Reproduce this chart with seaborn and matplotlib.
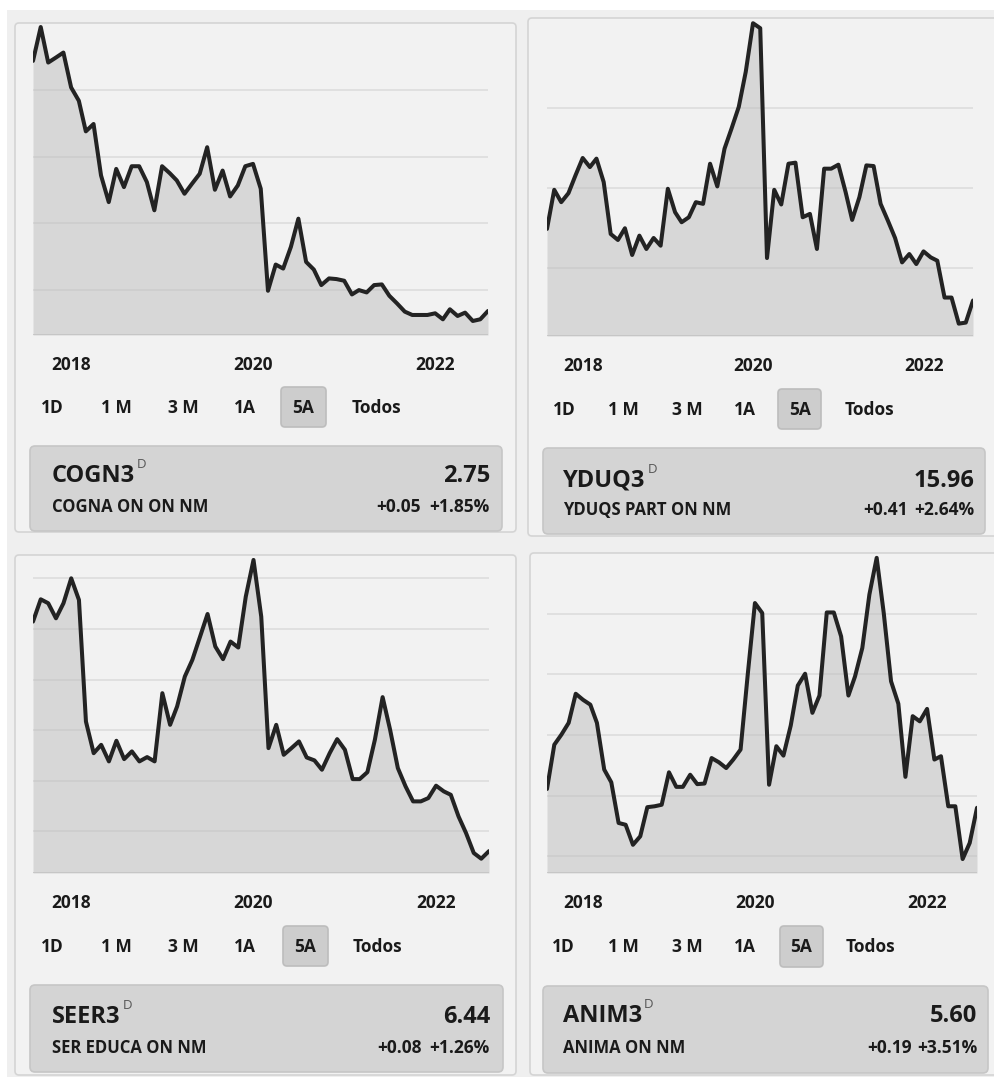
import numpy as np
import pandas as pd
import seaborn as sns
import matplotlib.pyplot as plt
from matplotlib.patches import FancyBboxPatch, Rectangle

# monthly closes, Aug 2017 - Aug 2022 (R$)
dates = pd.date_range('2017-08-01', periods=61, freq='MS')

cogn3 = [17.73, 19.76, 17.63, 17.93, 18.23, 16.14, 15.34, 13.51, 13.95, 10.87,
         9.27, 11.26, 10.17, 11.42, 11.42, 10.47, 8.78, 11.42, 11.00, 10.57,
         9.77, 10.37, 10.97, 12.56, 10.01, 11.16, 9.61, 10.27, 11.42, 11.56,
         10.07, 3.96, 5.53, 5.29, 6.59, 8.28, 5.69, 5.23, 4.30, 4.70,
         4.66, 4.56, 3.74, 4.00, 3.86, 4.30, 4.34, 3.66, 3.20, 2.71,
         2.51, 2.51, 2.51, 2.61, 2.25, 2.85, 2.45, 2.65, 2.15, 2.25, 2.75]

yduq3 = [24.88, 29.75, 28.21, 29.33, 31.54, 33.71, 32.58, 33.63, 30.71, 24.25,
         23.50, 24.96, 21.63, 24.04, 22.38, 23.75, 22.79, 29.88, 26.96, 25.71,
         26.33, 28.21, 28.00, 33.00, 30.17, 34.88, 37.38, 40.08, 44.46, 50.50,
         49.88, 21.25, 29.75, 27.92, 33.00, 33.13, 26.33, 26.75, 22.38, 32.38,
         32.38, 32.88, 29.46, 26.00, 28.83, 32.79, 32.71, 28.00, 25.92, 23.75,
         20.71, 21.75, 20.50, 22.08, 21.33, 20.92, 16.33, 16.33, 13.08, 13.21, 15.96]

seer3 = [24.58, 26.34, 26.03, 24.84, 26.03, 28.00, 26.29, 16.68, 14.18, 14.84,
         13.53, 15.16, 13.71, 14.32, 13.53, 13.87, 13.53, 18.92, 16.42, 17.87,
         20.24, 21.55, 23.39, 25.18, 22.61, 21.61, 23.00, 22.53, 26.55, 29.45,
         24.97, 14.58, 16.42, 14.05, 14.58, 15.11, 13.84, 13.61, 12.87, 14.18,
         15.29, 14.45, 12.13, 12.13, 12.68, 15.24, 18.61, 16.03, 13.00, 11.55,
         10.37, 10.37, 10.63, 11.61, 11.16, 10.89, 9.18, 7.87, 6.29, 5.84, 6.44]

anim3 = [6.22, 7.68, 8.01, 8.40, 9.36, 9.16, 9.00, 8.40, 6.86, 6.44,
         5.10, 5.04, 4.38, 4.66, 5.62, 5.65, 5.70, 6.77, 6.29, 6.29,
         6.69, 6.38, 6.40, 7.24, 7.10, 6.91, 7.19, 7.52, 9.96, 12.35,
         12.02, 6.36, 7.63, 7.32, 8.31, 9.63, 10.02, 8.73, 9.30, 12.04,
         12.04, 11.25, 9.30, 9.93, 10.87, 12.63, 13.84, 12.02, 9.77, 9.03,
         6.62, 8.62, 8.45, 8.86, 7.19, 7.30, 5.65, 5.65, 3.91, 4.44, 5.60]

tickers = ['COGN3', 'YDUQ3', 'SEER3', 'ANIM3']
names = ['COGNA ON ON NM', 'YDUQS PART ON NM', 'SER EDUCA ON NM', 'ANIMA ON NM']
prices = ['2.75', '15.96', '6.44', '5.60']
changes = ['+0.05', '+0.41', '+0.08', '+0.19']
pct_changes = ['+1.85%', '+2.64%', '+1.26%', '+3.51%']
buttons = ['1D', '1 M', '3 M', '1A', '5A', 'Todos']
year_ticks = ['2018', '2020', '2022']

series = [cogn3, yduq3, seer3, anim3]
ylims = [(1.31, 20.0), (11.54, 50.9), (4.71, 30.0), (3.45, 14.0)]
grids = [[4, 8, 12, 16], [20, 30, 40], [8, 12, 16, 20, 24, 28], [4, 6, 8, 10, 12]]

sns.set_theme(style='white')
plt.rcParams['font.family'] = ['Open Sans', 'DejaVu Sans']

W, H = 994, 1077
fig = plt.figure(figsize=(W / 100, H / 100), dpi=100, facecolor='white')

bg = fig.add_axes([0, 0, 1, 1])
bg.set_xlim(0, W)
bg.set_ylim(H, 0)
bg.axis('off')
bg.set_zorder(0)
bg.add_patch(Rectangle((7, 10), W - 7, H - 10, fc='#efefef', ec='none'))

ink = '#1a1a1a'

# pixel layout of each widget
panels = [
    dict(card=(15, 23, 501, 509), plot=(33, 23, 488, 335), btn_y=408,
         bx=[52, 116, 183, 245, 303, 376], box5=(281, 387, 45, 40),
         info=(30, 446, 472, 85), tx=52, rx=490, chg_r=421, t1=482, t2=512),
    dict(card=(528, 18, 480, 518), plot=(547, 20, 973, 336), btn_y=410,
         bx=[564, 623, 687, 745, 800, 869], box5=(778, 389, 43, 40),
         info=(543, 448, 442, 86), tx=563, rx=974, chg_r=908, t1=487, t2=515),
    dict(card=(15, 555, 501, 520), plot=(33, 553, 489, 873), btn_y=947,
         bx=[52, 116, 183, 245, 305, 377], box5=(283, 926, 45, 40),
         info=(30, 985, 473, 87), tx=52, rx=490, chg_r=422, t1=1023, t2=1053),
    dict(card=(530, 553, 480, 522), plot=(547, 553, 977, 873), btn_y=947,
         bx=[563, 623, 687, 745, 801, 870], box5=(780, 926, 43, 41),
         info=(543, 986, 445, 87), tx=563, rx=977, chg_r=912, t1=1022, t2=1053),
]

renderer = fig.canvas.get_renderer()

for i, p in enumerate(panels):
    cx, cy, cw, ch = p['card']
    bg.add_patch(FancyBboxPatch((cx, cy), cw, ch, boxstyle='round,pad=0,rounding_size=4',
                                fc='#f2f2f2', ec='#d4d4d4', lw=1.2))
    # range buttons
    bx, by, bw, bh = p['box5']
    bg.add_patch(FancyBboxPatch((bx, by), bw, bh, boxstyle='round,pad=0,rounding_size=4',
                                fc='#cdcdcd', ec='#bdbdbd', lw=1.2))
    for lab, x in zip(buttons, p['bx']):
        bg.text(x, p['btn_y'], lab, ha='center', va='center', fontsize=12.5,
                fontweight='bold', color=ink)
    # quote box
    ix, iy, iw, ih = p['info']
    bg.add_patch(FancyBboxPatch((ix, iy), iw, ih, boxstyle='round,pad=0,rounding_size=5',
                                fc='#d4d4d4', ec='#c6c6c6', lw=1.2))
    t = bg.text(p['tx'], p['t1'], tickers[i], ha='left', va='baseline', fontsize=17,
                fontweight='bold', color=ink)
    bb = t.get_window_extent(renderer=renderer)
    bg.text(p['tx'] + bb.width + 2, p['t1'] - 14, 'D', ha='left', va='baseline',
            fontsize=9.5, color='#555555')
    bg.text(p['rx'], p['t1'], prices[i], ha='right', va='baseline', fontsize=17,
            fontweight='bold', color=ink)
    bg.text(p['tx'], p['t2'], names[i], ha='left', va='baseline', fontsize=12,
            fontweight='bold', color=ink)
    bg.text(p['chg_r'], p['t2'], changes[i], ha='right', va='baseline', fontsize=12.5,
            fontweight='bold', color=ink)
    bg.text(p['rx'], p['t2'], pct_changes[i], ha='right', va='baseline', fontsize=12.5,
            fontweight='bold', color=ink)

    # the chart itself
    x0, y0, x1, y1 = p['plot']
    ax = fig.add_axes([x0 / W, 1 - y1 / H, (x1 - x0) / W, (y1 - y0) / H])
    ax.set_zorder(1)
    ax.patch.set_alpha(0)
    df = pd.DataFrame({'date': dates, 'close': series[i]})
    ax.fill_between(df['date'], df['close'], ylims[i][0], color='#bdbdbd', alpha=0.5,
                    lw=0, zorder=2)
    sns.lineplot(data=df, x='date', y='close', ax=ax, color='#232323', lw=2.9,
                 zorder=3)
    ax.set_xlim(dates[0], dates[-1])
    ax.set_ylim(*ylims[i])
    ax.set_yticks(grids[i])
    ax.set_yticklabels([])
    ax.grid(axis='y', color='#e0e0e0', lw=1.4, zorder=1)
    ax.axhline(ylims[i][0], color='#c4c4c4', lw=2, zorder=2)
    ax.set_xticks(pd.to_datetime([f'{y}-01-01' for y in year_ticks]))
    ax.set_xticklabels(year_ticks, fontsize=12.5, fontweight='bold', color=ink)
    ax.tick_params(axis='x', length=0, pad=15)
    ax.tick_params(axis='y', length=0)
    ax.set_xlabel('')
    ax.set_ylabel('')
    for s in ax.spines.values():
        s.set_visible(False)

fig.savefig('out.png', dpi=100, facecolor='white')
